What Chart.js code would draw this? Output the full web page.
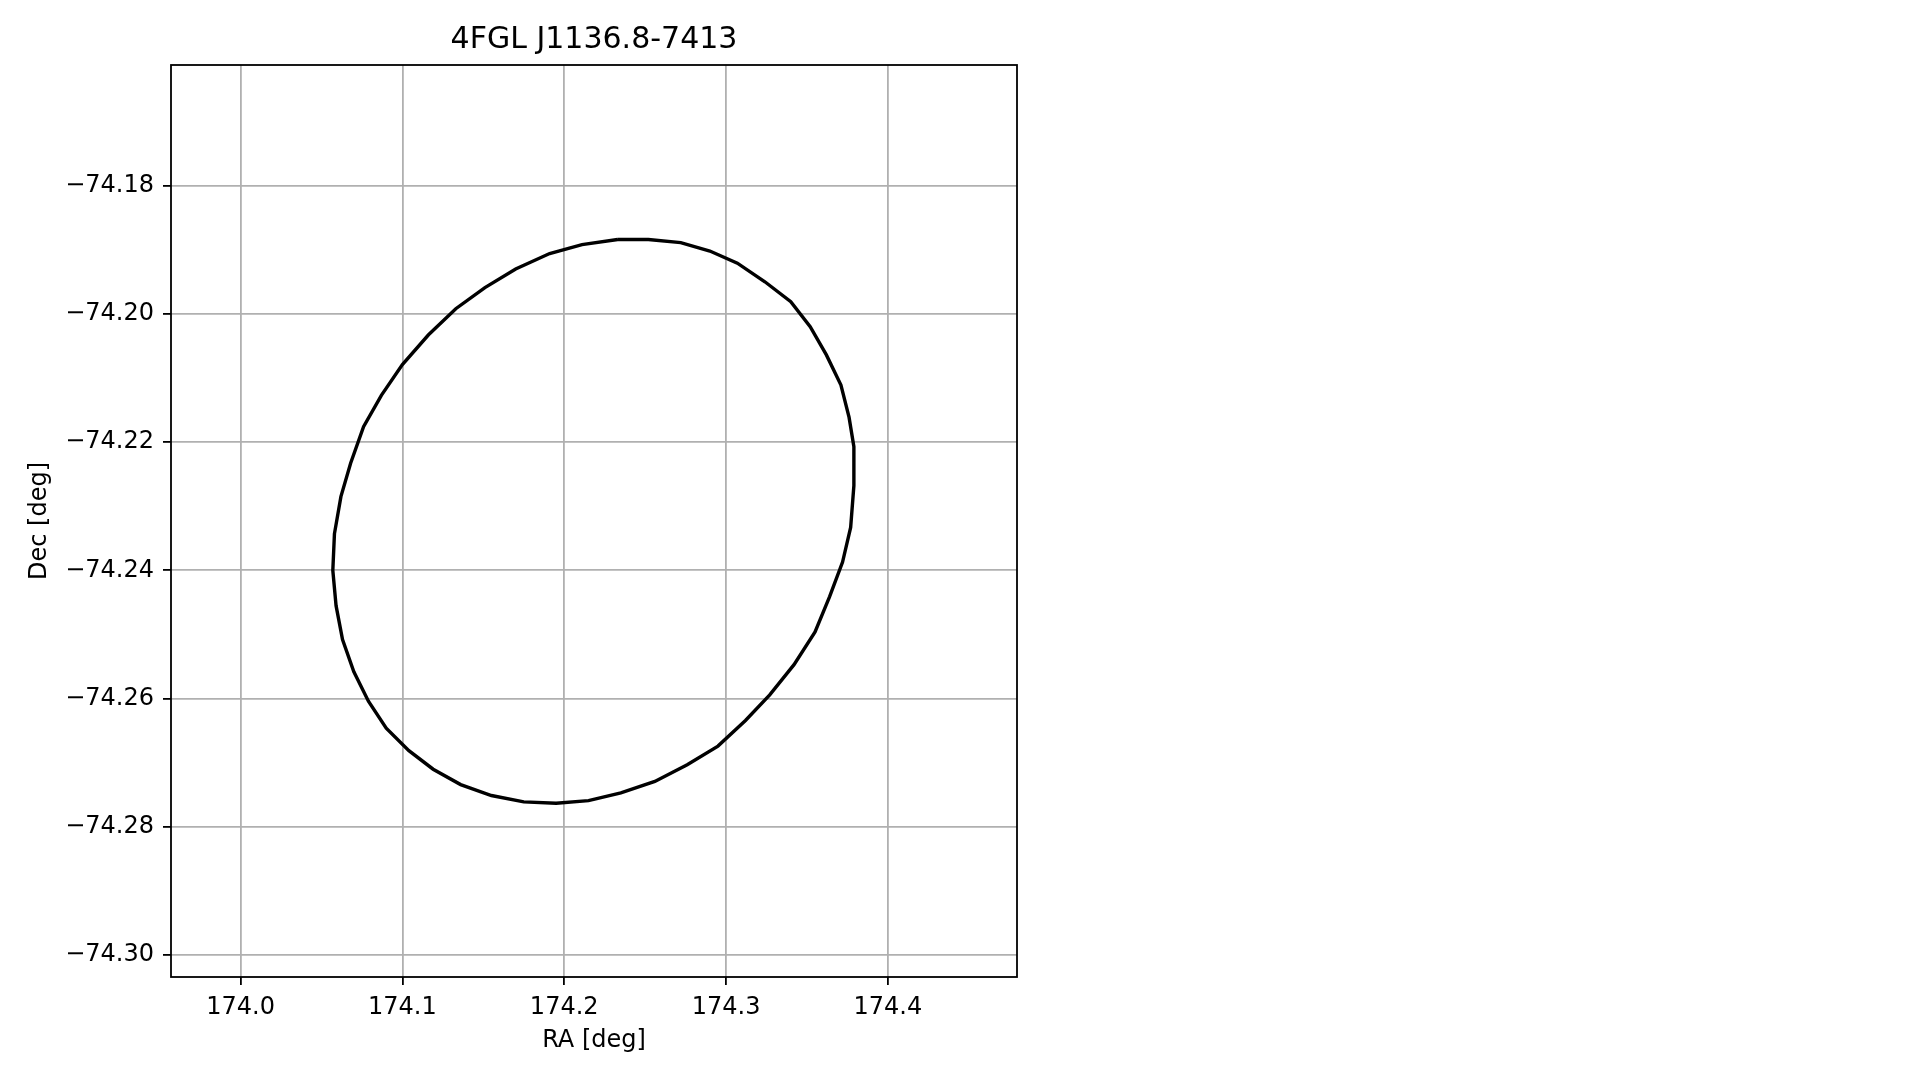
<!DOCTYPE html>
<html>
<head>
<meta charset="utf-8">
<script src="https://cdn.jsdelivr.net/npm/chart.js@4"></script>
<style>
  html, body { margin: 0; padding: 0; background: #fff; }
  #wrap { width: 1919px; height: 1080px; }
</style>
</head>
<body>
<div id="wrap"><canvas id="errEllipse" width="1919" height="1080"></canvas></div>
<script>
// ===== Data =====
const sourceName = "4FGL J1136.8-7413";

// ellipse outline, RA [deg]
const ellipseRA = [
  174.233, 174.252, 174.272, 174.290, 174.307, 174.324, 174.340, 174.352,
  174.362, 174.371, 174.376, 174.379, 174.379, 174.377, 174.372, 174.364,
  174.355, 174.342, 174.327, 174.312, 174.295, 174.276, 174.256, 174.235,
  174.215, 174.195, 174.175, 174.155, 174.136, 174.119, 174.104, 174.090,
  174.079, 174.070, 174.063, 174.059, 174.057, 174.058, 174.062, 174.068,
  174.076, 174.087, 174.100, 174.116, 174.133, 174.151, 174.170, 174.191,
  174.211, 174.233
];
// ellipse outline, Dec [deg]
const ellipseDec = [
  -74.1884, -74.1884, -74.1889, -74.1902, -74.1921, -74.1950, -74.1981, -74.2020,
  -74.2064, -74.2111, -74.2161, -74.2207, -74.2268, -74.2333, -74.2387, -74.2441,
  -74.2496, -74.2547, -74.2594, -74.2634, -74.2674, -74.2703, -74.2729, -74.2747,
  -74.2759, -74.2763, -74.2761, -74.2751, -74.2734, -74.2710, -74.2681, -74.2646,
  -74.2604, -74.2558, -74.2508, -74.2455, -74.2400, -74.2343, -74.2285, -74.2233,
  -74.2176, -74.2127, -74.2079, -74.2033, -74.1992, -74.1959, -74.1930, -74.1906,
  -74.1892, -74.1884
];

const raTicks = [174.0, 174.1, 174.2, 174.3, 174.4];
const decTicks = [-74.30, -74.28, -74.26, -74.24, -74.22, -74.20, -74.18];
const raLimits = [173.957, 174.4798];
const decLimits = [-74.3034, -74.1612];

// ===== Chart =====
const FONT = "'DejaVu Sans', 'Liberation Sans', sans-serif";

// matplotlib-style box round the axes
const frameBox = {
  id: "frameBox",
  afterDraw(chart) {
    const { ctx, chartArea: a } = chart;
    ctx.save();
    ctx.strokeStyle = "#000";
    ctx.lineWidth = 1.8;
    ctx.strokeRect(a.left, a.top, a.right - a.left, a.bottom - a.top);
    ctx.restore();
  }
};

const points = ellipseRA.map((ra, i) => ({ x: ra, y: ellipseDec[i] }));

new Chart(document.getElementById("errEllipse"), {
  type: "scatter",
  data: {
    datasets: [{
      data: points,
      showLine: true,
      borderColor: "#000",
      borderWidth: 3.4,
      pointRadius: 0,
      tension: 0,
      fill: false
    }]
  },
  options: {
    responsive: false,
    animation: false,
    devicePixelRatio: 1,
    layout: { padding: { left: 0, right: 902, top: 0, bottom: 0 } },
    plugins: {
      legend: { display: false },
      tooltip: { enabled: false },
      title: {
        display: true,
        text: sourceName,
        fullSize: false,
        color: "#000",
        font: { family: FONT, size: 30, weight: "normal" },
        padding: { top: 22, bottom: 7 }
      }
    },
    scales: {
      x: {
        type: "linear",
        min: raLimits[0],
        max: raLimits[1],
        afterBuildTicks: s => { s.ticks = raTicks.map(v => ({ value: v })); },
        afterFit: s => { s.height = 103; },
        ticks: {
          color: "#000",
          font: { family: FONT, size: 24 },
          padding: 8,
          maxRotation: 0,
          callback: v => v.toFixed(1)
        },
        grid: { color: "#b0b0b0", lineWidth: 1.8, tickColor: "#000", tickLength: 8, tickWidth: 1.8 },
        border: { display: false },
        title: {
          display: true,
          text: "RA [deg]",
          color: "#000",
          font: { family: FONT, size: 24 },
          padding: { top: 0, bottom: 24.5 }
        }
      },
      y: {
        type: "linear",
        min: decLimits[0],
        max: decLimits[1],
        afterBuildTicks: s => { s.ticks = decTicks.map(v => ({ value: v })); },
        afterFit: s => { s.width = 171; },
        ticks: {
          color: "#000",
          font: { family: FONT, size: 24 },
          padding: 9,
          callback: v => v.toFixed(2).replace("-", "\u2212")
        },
        grid: { color: "#b0b0b0", lineWidth: 1.8, tickColor: "#000", tickLength: 8, tickWidth: 1.8 },
        border: { display: false },
        title: {
          display: true,
          text: "Dec [deg]",
          color: "#000",
          font: { family: FONT, size: 24 },
          padding: { top: 25, bottom: 0 }
        }
      }
    }
  },
  plugins: [frameBox]
});
</script>
</body>
</html>
